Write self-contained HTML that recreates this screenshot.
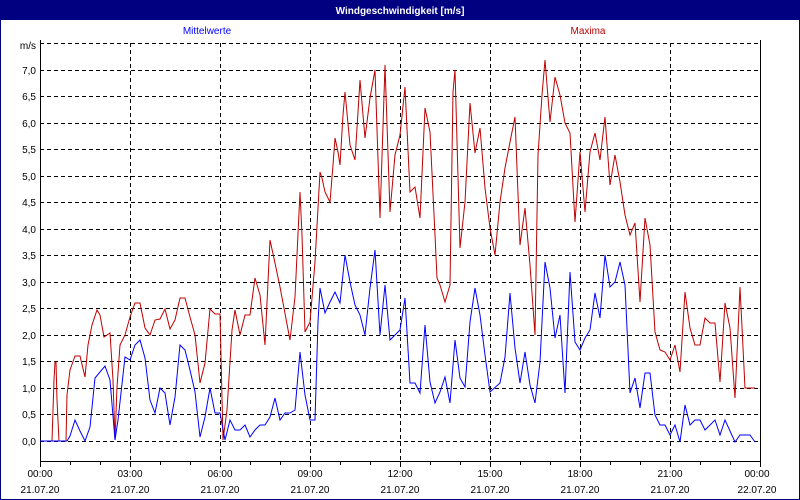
<!DOCTYPE html>
<html><head><style>
body{margin:0;width:800px;height:500px;overflow:hidden;background:#fff}
svg{display:block}
</style></head><body>
<svg width="800" height="500" xmlns="http://www.w3.org/2000/svg" font-family="Liberation Sans, sans-serif" font-size="10">
<rect x="0" y="0" width="800" height="500" fill="#fff"/>
<rect x="0.5" y="0.5" width="799" height="499" fill="none" stroke="#000080"/>
<rect x="0" y="0" width="800" height="20" fill="#000080"/>
<text x="400" y="14" fill="#fff" font-weight="bold" text-anchor="middle" font-size="10">Windgeschwindigkeit [m/s]</text>
<text x="207" y="34" fill="#0000ff" text-anchor="middle">Mittelwerte</text>
<text x="588" y="34" fill="#c00000" text-anchor="middle">Maxima</text>
<g stroke="#000" stroke-dasharray="4,3" stroke-width="1">
<line x1="40" y1="43.5" x2="760" y2="43.5"/>
<line x1="40" y1="70.5" x2="760" y2="70.5"/><line x1="40" y1="96.5" x2="760" y2="96.5"/>
<line x1="40" y1="123.5" x2="760" y2="123.5"/><line x1="40" y1="149.5" x2="760" y2="149.5"/>
<line x1="40" y1="176.5" x2="760" y2="176.5"/><line x1="40" y1="202.5" x2="760" y2="202.5"/>
<line x1="40" y1="229.5" x2="760" y2="229.5"/><line x1="40" y1="255.5" x2="760" y2="255.5"/>
<line x1="40" y1="282.5" x2="760" y2="282.5"/><line x1="40" y1="308.5" x2="760" y2="308.5"/>
<line x1="40" y1="335.5" x2="760" y2="335.5"/><line x1="40" y1="361.5" x2="760" y2="361.5"/>
<line x1="40" y1="388.5" x2="760" y2="388.5"/><line x1="40" y1="414.5" x2="760" y2="414.5"/>
<line x1="40" y1="441.5" x2="760" y2="441.5"/>
<line x1="130.5" y1="43" x2="130.5" y2="461"/><line x1="220.5" y1="43" x2="220.5" y2="461"/>
<line x1="310.5" y1="43" x2="310.5" y2="461"/><line x1="400.5" y1="43" x2="400.5" y2="461"/>
<line x1="490.5" y1="43" x2="490.5" y2="461"/><line x1="580.5" y1="43" x2="580.5" y2="461"/>
<line x1="670.5" y1="43" x2="670.5" y2="461"/>
</g>
<g stroke="#000" stroke-width="1">
<line x1="40.5" y1="40" x2="40.5" y2="462"/>
<line x1="40" y1="461.5" x2="761" y2="461.5"/>
<line x1="760.5" y1="40" x2="760.5" y2="462"/>
<path d="M40.5 461v6M70.5 461v4M100.5 461v4M130.5 461v6M160.5 461v4M190.5 461v4M220.5 461v6M250.5 461v4M280.5 461v4M310.5 461v6M340.5 461v4M370.5 461v4M400.5 461v6M430.5 461v4M460.5 461v4M490.5 461v6M520.5 461v4M550.5 461v4M580.5 461v6M610.5 461v4M640.5 461v4M670.5 461v6M700.5 461v4M730.5 461v4M760.5 461v6"/>
</g>
<g text-anchor="end" fill="#000">
<text x="36" y="49">m/s</text>
<text x="36" y="74">7,0</text><text x="36" y="100">6,5</text><text x="36" y="127">6,0</text>
<text x="36" y="153">5,5</text><text x="36" y="180">5,0</text><text x="36" y="206">4,5</text>
<text x="36" y="233">4,0</text><text x="36" y="259">3,5</text><text x="36" y="286">3,0</text>
<text x="36" y="312">2,5</text><text x="36" y="339">2,0</text><text x="36" y="365">1,5</text>
<text x="36" y="392">1,0</text><text x="36" y="418">0,5</text><text x="36" y="445">0,0</text>
</g>
<g text-anchor="middle" fill="#000">
<text x="40" y="477">00:00</text><text x="40" y="493">21.07.20</text>
<text x="130" y="477">03:00</text><text x="130" y="493">21.07.20</text>
<text x="220" y="477">06:00</text><text x="220" y="493">21.07.20</text>
<text x="310" y="477">09:00</text><text x="310" y="493">21.07.20</text>
<text x="400" y="477">12:00</text><text x="400" y="493">21.07.20</text>
<text x="490" y="477">15:00</text><text x="490" y="493">21.07.20</text>
<text x="580" y="477">18:00</text><text x="580" y="493">21.07.20</text>
<text x="670" y="477">21:00</text><text x="670" y="493">21.07.20</text>
<text x="757" y="477">00:00</text><text x="757" y="493">22.07.20</text>
</g>
<polyline fill="none" stroke="#c00000" stroke-width="1" points="40,441 52,441 54,380 55,362 56,362 57,400 59,441 66,441 67,395 70,370 75,356 80,356 85,377 88,345 92,325 97,310 100,315 104,337 110,333 113,380 115,440 117,387 120,345 125,335 130,317 135,303 140,303 145,328 150,335 155,320 160,319 165,309 170,329 175,320 180,298 185,298 190,317 195,335 200,383 205,363 210,309 215,314 220,314 223,440 227,410 232,330 235,310 240,335 245,315 250,315 255,278 260,295 265,345 270,240 275,263 280,287 290,340 295,297 300,192 302,235 305,332 310,322 315,262 320,172 322,178 325,192 330,202 333,165 335,138 338,152 340,165 343,115 345,92 350,145 355,160 360,80 365,138 370,98 375,70 380,218 385,65 390,212 395,155 400,135 405,87 410,192 415,187 420,218 425,108 430,132 435,235 437,278 440,285 445,302 450,285 453,92 455,70 460,248 465,202 470,103 475,153 480,128 485,188 490,228 495,255 500,202 505,168 510,142 515,117 520,245 525,208 530,265 535,335 538,155 542,95 545,60 550,122 555,77 560,95 565,123 570,133 575,222 580,152 585,212 590,152 595,133 600,160 605,117 610,185 615,155 620,182 625,215 630,235 635,223 640,302 645,218 650,245 655,332 660,350 665,352 670,360 675,345 680,372 685,292 690,328 695,345 700,345 705,318 710,323 715,323 720,382 725,303 730,328 735,398 740,287 745,388 755,388"/>
<polyline fill="none" stroke="#0000ff" stroke-width="1" points="40,441 67,441 70,436 75,420 80,431 85,441 90,427 95,378 105,366 110,380 115,440 118,420 125,357 130,360 135,345 140,340 145,358 150,400 155,413 160,388 165,393 170,425 175,397 180,345 185,350 190,370 195,392 200,437 205,417 210,388 215,413 220,413 225,440 230,420 235,430 240,430 245,425 250,437 255,430 260,425 265,425 270,417 275,398 280,420 285,413 290,413 295,410 300,352 305,395 310,420 315,420 318,322 320,288 325,313 330,302 335,292 340,303 345,255 350,282 355,305 360,315 365,335 370,288 375,250 380,335 385,285 390,340 395,335 400,330 405,298 410,383 415,383 420,393 425,325 430,382 435,403 440,392 445,377 450,403 455,340 460,378 465,387 470,322 475,288 480,315 485,355 490,392 500,383 505,357 510,293 515,348 520,383 525,352 530,385 535,403 540,362 545,262 550,288 555,338 560,315 565,393 570,272 575,342 580,350 585,338 590,330 595,293 600,318 605,255 610,287 615,282 620,262 625,285 630,393 635,378 640,408 645,373 650,373 655,415 660,425 665,425 670,435 675,425 680,442 685,405 690,425 695,420 700,420 705,430 715,420 720,435 725,420 735,442 740,435 750,435 755,442"/>
</svg>
</body></html>
